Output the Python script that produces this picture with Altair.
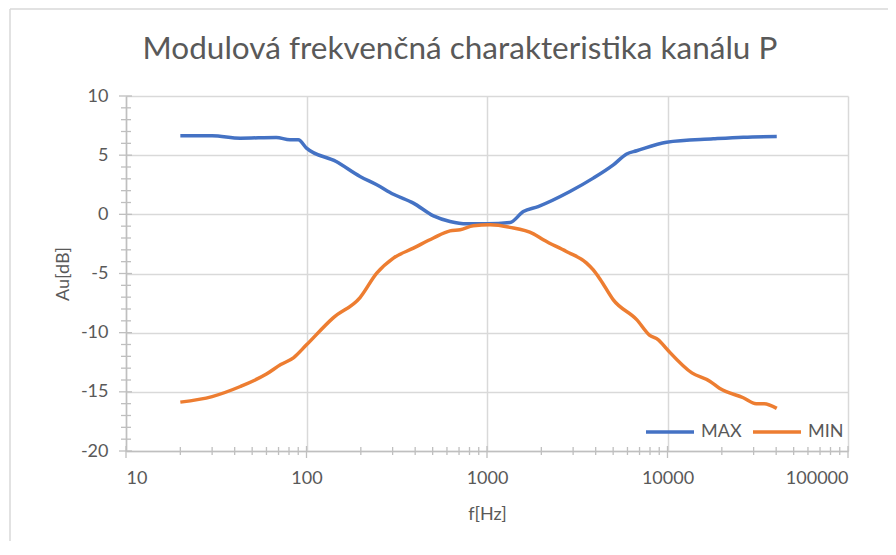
import altair as alt
import pandas as pd

# ---- data ----
freq_max = [20, 30, 43, 68, 81, 90, 100, 146, 198, 245, 303, 391, 505, 624, 772, 996,
            1340, 1590, 1920, 2880, 3880, 5010, 5940, 6750, 9890, 17950, 26300, 40300]
max_db = [6.64, 6.64, 6.44, 6.5, 6.3, 6.3, 5.6, 4.46, 3.2, 2.5, 1.7, 0.95, -0.13, -0.6, -0.8, -0.8,
          -0.69, 0.24, 0.66, 1.93, 3.06, 4.18, 5.1, 5.37, 6.1, 6.38, 6.52, 6.58]

freq_min = [20, 30, 43, 60, 72, 85, 100, 140, 198, 245, 303, 391, 505, 624, 710, 840, 1040,
            1340, 1810, 2050, 2750, 3550, 3880, 4240, 5010, 6750, 7940, 8900, 10000, 13650,
            17150, 19400, 26300, 31000, 34300, 40300]
min_db = [-15.87, -15.4, -14.55, -13.5, -12.7, -12.1, -11.03, -8.77, -7.03, -4.97, -3.7, -2.86,
          -2.0, -1.4, -1.3, -0.97, -0.89, -1.1, -1.65, -2.15, -3.14, -4.1, -4.7, -5.5, -7.23,
          -8.9, -10.2, -10.6, -11.45, -13.4, -14.1, -14.7, -15.5, -16.0, -16.0, -16.4]

series_names = ["MAX", "MIN"]
series_colors = ["#4472C4", "#ED7D31"]

x_major = [10, 100, 1000, 10000, 100000]
x_minor = [m * d for d in [10, 100, 1000, 10000] for m in range(2, 10)]
y_major = [-20, -15, -10, -5, 0, 5, 10]
y_minor = [v for v in range(-20, 11) if v % 5 != 0]

title_text = "Modulová frekvenčná charakteristika kanálu P"

# ---- tables ----
df = pd.concat([
    pd.DataFrame({"f": freq_max, "v": max_db, "s": "MAX"}),
    pd.DataFrame({"f": freq_min, "v": min_db, "s": "MIN"}),
])

FONT = "Lato"
TXT = "#595959"
AX = "#bfbfbf"
W, H = 722, 355

xscale = alt.Scale(type="log", domain=[10, 100000])
yscale = alt.Scale(domain=[-20, 10])

xaxis = alt.Axis(
    values=x_major, labelExpr="'' + datum.value", title="f[Hz]",
    grid=True, gridColor="#d9d9d9", gridWidth=1.5, ticks=False,
    domainColor=AX, domainWidth=1.5, labelPadding=18, titlePadding=18,
    labelFont=FONT, labelFontSize=18, labelColor=TXT,
    titleFont=FONT, titleFontSize=18, titleColor=TXT, titleFontWeight="normal")
yaxis = alt.Axis(
    values=y_major, labelExpr="'' + datum.value", title="Au[dB]",
    grid=True, gridColor="#d9d9d9", gridWidth=1.5, ticks=False,
    domainColor=AX, domainWidth=1.5, labelPadding=18, titlePadding=8,
    labelFont=FONT, labelFontSize=18, labelColor=TXT,
    titleFont=FONT, titleFontSize=18, titleColor=TXT, titleFontWeight="normal")

X = alt.X("f:Q", scale=xscale, axis=xaxis)
Y = alt.Y("v:Q", scale=yscale, axis=yaxis)

lines = alt.Chart(df).mark_line(strokeWidth=3.5, interpolate="monotone").encode(
    x=X, y=Y,
    color=alt.Color("s:N", scale=alt.Scale(domain=series_names, range=series_colors),
                    legend=alt.Legend(title=None, orient="none", legendX=518, legendY=310,
                                      direction="horizontal", symbolType="stroke",
                                      symbolSize=2304, symbolStrokeWidth=3.5,
                                      labelFont=FONT, labelFontSize=18, labelColor=TXT,
                                      labelOffset=5, columnPadding=4, padding=0)),
)

xminor = alt.Chart(pd.DataFrame({"f": x_minor})).mark_rule(color=AX, strokeWidth=1.3).encode(
    x=X, y=alt.value(H - 4), y2=alt.value(H + 4))
xmajor = alt.Chart(pd.DataFrame({"f": x_major})).mark_rule(color=AX, strokeWidth=1.3).encode(
    x=X, y=alt.value(H - 5), y2=alt.value(H + 7))
yminor = alt.Chart(pd.DataFrame({"v": y_minor})).mark_rule(color=AX, strokeWidth=1.3).encode(
    y=Y, x=alt.value(-5), x2=alt.value(5))
ymajor = alt.Chart(pd.DataFrame({"v": y_major})).mark_rule(color=AX, strokeWidth=1.3).encode(
    y=Y, x=alt.value(-7), x2=alt.value(6))

# chart-area frame (Excel chart border)
frame = alt.Chart(pd.DataFrame({"a": [0]})).mark_rule(color="#d9d9d9", strokeWidth=1.5)
frame_left = frame.encode(x=alt.value(-116), y=alt.value(-87), y2=alt.value(H + 100))
frame_top = frame.encode(x=alt.value(-116), x2=alt.value(W + 60), y=alt.value(-87))

chart = alt.layer(lines, xminor, xmajor, yminor, ymajor, frame_left, frame_top).properties(
    width=W, height=H,
    title=alt.TitleParams(title_text, font=FONT, fontSize=31.5, color=TXT, fontWeight="normal",
                          anchor="middle", dx=-27, offset=-57),
    autosize=alt.AutoSizeParams(type="none"),
    padding={"left": 118, "top": 88, "right": 40, "bottom": 90},
).configure_view(stroke=None)

chart.save("out.html", embed_options={"renderer": "svg", "actions": False})
